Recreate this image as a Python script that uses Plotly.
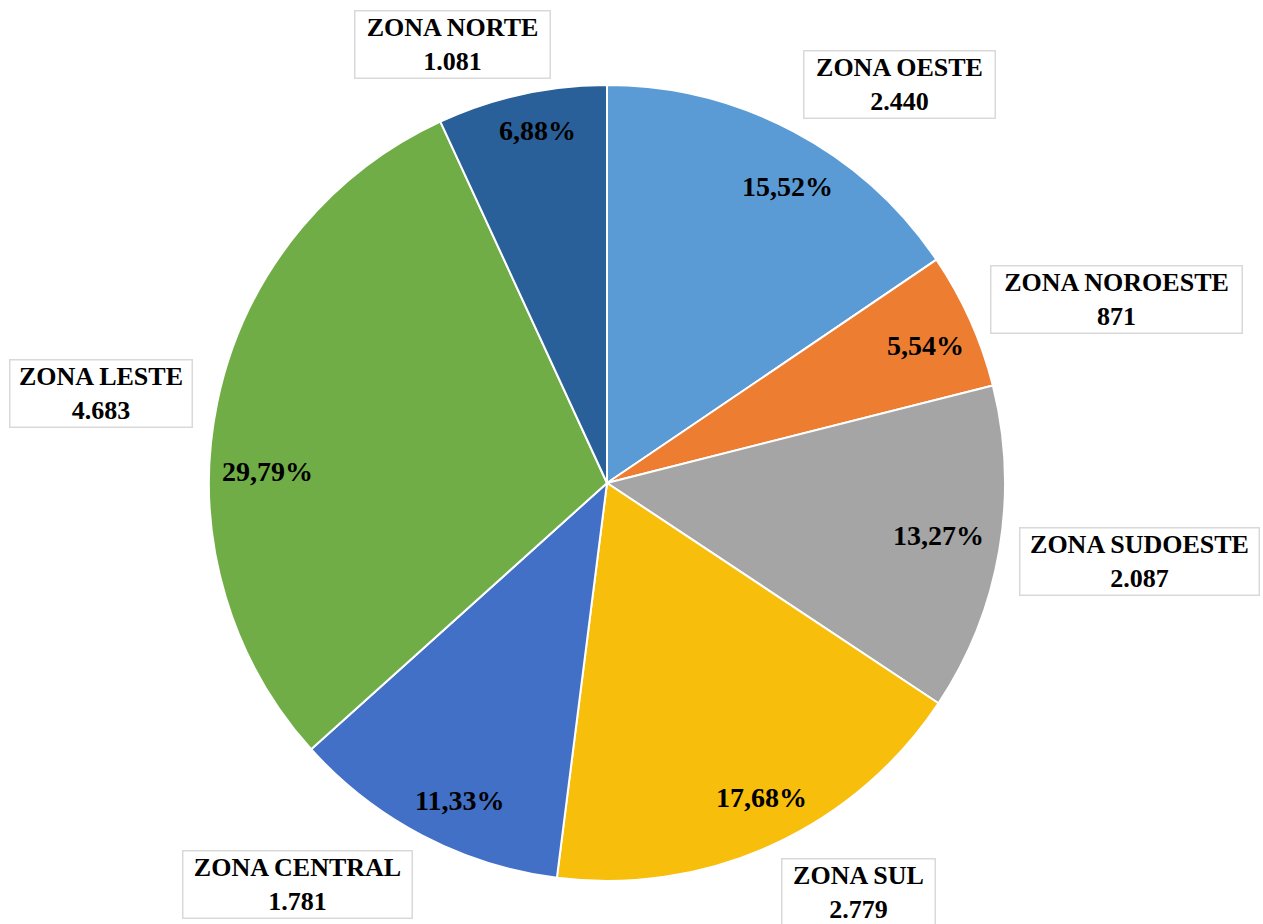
import plotly.graph_objects as go

zones = ["ZONA OESTE", "ZONA NOROESTE", "ZONA SUDOESTE", "ZONA SUL",
         "ZONA CENTRAL", "ZONA LESTE", "ZONA NORTE"]
counts = [2440, 871, 2087, 2779, 1781, 4683, 1081]
colors = ["#5B9BD5", "#ED7D31", "#A5A5A5", "#F7BE0C",
          "#4170C6", "#70AD47", "#2A6099"]

W, H = 1263, 924
cx, cy, R = 607, 483, 398
dom_x = [(cx - R) / W, (cx + R) / W]
dom_y = [1 - (cy + R) / H, 1 - (cy - R) / H]

FONT = "Liberation Serif, Times New Roman, serif"

fig = go.Figure()
fig.add_trace(go.Pie(
    labels=zones, values=counts, sort=False, direction="clockwise", rotation=0,
    marker=dict(colors=colors, line=dict(color="white", width=2)),
    textinfo="none", domain=dict(x=dom_x, y=dom_y), showlegend=False,
    hovertemplate="%{label}: %{value} (%{percent:.2%})<extra></extra>",
))

# label box placement (pixel centres, widths) and percentage text positions
box_pos = {
    "ZONA OESTE": (899, 85, 192),
    "ZONA NOROESTE": (1116, 299, 252),
    "ZONA SUDOESTE": (1139, 561, 240),
    "ZONA SUL": (858, 892, 154),
    "ZONA CENTRAL": (297, 884, 230),
    "ZONA LESTE": (101, 394, 183),
    "ZONA NORTE": (452, 44, 196),
}
pct_pos = {
    "ZONA OESTE": (787, 186),
    "ZONA NOROESTE": (925, 346),
    "ZONA SUDOESTE": (938, 535),
    "ZONA SUL": (761, 797),
    "ZONA CENTRAL": (460, 800),
    "ZONA LESTE": (267, 471),
    "ZONA NORTE": (537, 130),
}

total = sum(counts)

def fmt(v):
    return f"{v:,}".replace(",", ".")

for z, v in zip(zones, counts):
    px, py, bw = box_pos[z]
    fig.add_annotation(
        x=px / W, y=1 - py / H, xref="paper", yref="paper",
        xanchor="center", yanchor="middle", showarrow=False,
        text=f"{z}<br>{fmt(v)}",
        font=dict(family=FONT, size=26, color="black", weight="bold"),
        bgcolor="white", bordercolor="#D9D9D9", borderwidth=1.5,
        borderpad=1, width=bw - 4, height=64,
    )
    qx, qy = pct_pos[z]
    pct = f"{v / total * 100:.2f}".replace(".", ",") + "%"
    fig.add_annotation(
        x=qx / W, y=1 - qy / H, xref="paper", yref="paper",
        xanchor="center", yanchor="middle", showarrow=False,
        text=pct,
        font=dict(family=FONT, size=28, color="black", weight="bold"),
    )

fig.update_layout(
    width=W, height=H, margin=dict(l=0, r=0, t=0, b=0),
    paper_bgcolor="white", plot_bgcolor="white",
    separators=",.",
)
fig.write_html("out.html", config={"displayModeBar": False},
               post_script="document.body.style.margin='0';document.body.style.padding='0';")
